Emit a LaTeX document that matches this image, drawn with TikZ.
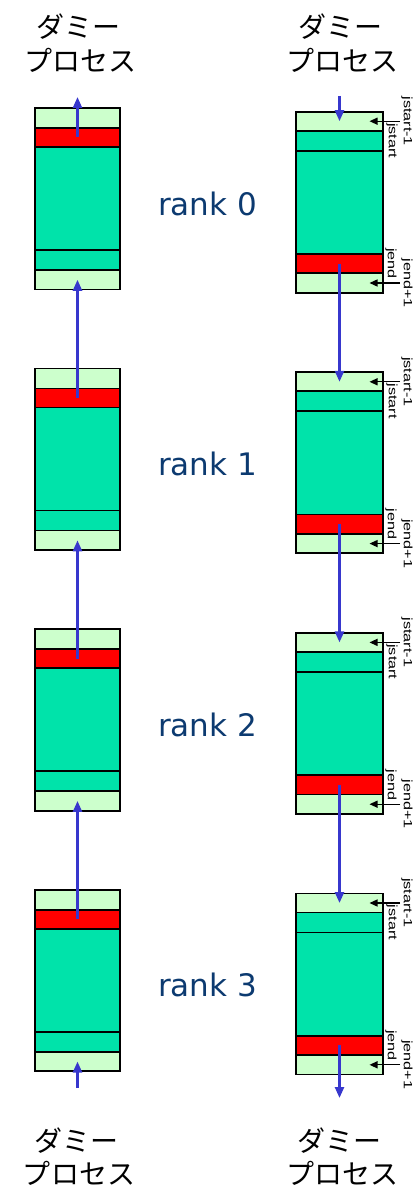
\documentclass[tikz,border=0pt]{standalone}
\usepackage{fontspec}
\usetikzlibrary{arrows.meta}
\newfontfamily\jpfont{Noto Sans CJK JP}
\newfontfamily\rkfont{DejaVu Sans}
\newfontfamily\labfont{Liberation Sans}
\definecolor{lightg}{HTML}{CCFFCC}
\definecolor{teal2}{HTML}{00E3AA}
\definecolor{redb}{HTML}{FF0000}
\definecolor{arrblue}{RGB}{55,55,205}
\definecolor{navy}{RGB}{12,58,112}
\tikzset{
  band/.style={draw=black, line width=1.7pt, minimum width=85pt, inner sep=0pt, outer sep=0pt, anchor=north west},
  rband/.style={draw=black, line width=1.7pt, minimum width=87pt, inner sep=0pt, outer sep=0pt, anchor=north west},
  barrow/.style={draw=arrblue, line width=2.4pt, -{Triangle[length=11pt,width=9pt]}},
  karrow/.style={draw=black, line width=1.3pt, -{Triangle[length=8pt,width=7pt]}},
  jplabel/.style={font=\jpfont\fontsize{28}{34}\selectfont, inner sep=0pt},
  ranktxt/.style={font=\rkfont\fontsize{31}{36}\selectfont, text=navy, anchor=base, inner sep=0pt},
  idxlab/.style={font=\labfont\fontsize{12}{14}\selectfont, rotate=-90, inner sep=0pt}
}
\begin{document}
\begin{tikzpicture}[x=1pt,y=-1pt]
\useasboundingbox (0,0) rectangle (413,1188);
% Japanese labels
\node[jplabel] (tl1) at (78,26.5) {ダミー};
\node[jplabel] (tl2) at (80,60.5) {プロセス};
\node[jplabel] (tr1) at (340,26.5) {ダミー};
\node[jplabel] (tr2) at (342,60.5) {プロセス};
\node[jplabel] (bl1) at (76,1141) {ダミー};
\node[jplabel] (bl2) at (79,1173.5) {プロセス};
\node[jplabel] (br1) at (339,1141) {ダミー};
\node[jplabel] (br2) at (342,1173.5) {プロセス};
\foreach \k in {0,1,2,3} {
  \pgfmathsetmacro\o{260.6*\k}
  % left box
  \node[band, fill=lightg, minimum height=20pt] (L\k a) at (35,108+\o) {};
  \node[band, fill=redb, minimum height=19pt] (L\k b) at (35,128+\o) {};
  \node[band, fill=teal2, minimum height=103pt] (L\k c) at (35,147+\o) {};
  \node[band, fill=teal2, minimum height=20pt] (L\k d) at (35,250+\o) {};
  \node[band, fill=lightg, minimum height=19.5pt] (L\k e) at (35,270+\o) {};
  % right box
  \node[rband, fill=lightg, minimum height=19pt] (R\k a) at (296,111.7+\o) {};
  \node[rband, fill=teal2, minimum height=20pt] (R\k b) at (296,130.7+\o) {};
  \node[rband, fill=teal2, minimum height=103.3pt] (R\k c) at (296,150.7+\o) {};
  \node[rband, fill=redb, minimum height=19.3pt] (R\k d) at (296,254+\o) {};
  \node[rband, fill=lightg, minimum height=19.4pt] (R\k e) at (296,273.3+\o) {};
  % rank text
  \node[ranktxt] (rk\k) at (207.5,215+\o) {rank \k};
  % index labels
  \node[idxlab] (js1\k) at (407,121.2+\o) {\scalebox{1.35}[1]{jstart-1}};
  \node[idxlab] (js\k) at (392,140.7+\o) {\scalebox{1.35}[1]{jstart}};
  \node[idxlab] (je\k) at (391,263.6+\o) {\scalebox{1.35}[1]{jend}};
  \node[idxlab] (je1\k) at (407,283+\o) {\scalebox{1.35}[1]{jend+1}};
  % small black arrows
  \coordinate (KA\k) at (400,121.2+\o);
  \coordinate (KE\k) at (400,283+\o);
  \draw[karrow] (KA\k) -- ([xshift=-13.5pt]R\k a.east);
  \draw[karrow] (KE\k) -- ([xshift=-13.5pt]R\k e.east);
}
% blue arrows, left column (upwards)
\coordinate (LT) at (77.5,97);
\coordinate (LB) at (77.5,1088);
\draw[barrow] (L0b.center) -- (LT);
\draw[barrow] (L1b.center) -- (L0e.center);
\draw[barrow] (L2b.center) -- (L1e.center);
\draw[barrow] (L3b.center) -- (L2e.center);
\draw[barrow] (LB) -- (L3e.center);
% blue arrows, right column (downwards)
\coordinate (RT) at (339.5,96);
\coordinate (RB) at (339.5,1098);
\draw[barrow] (RT) -- (R0a.center);
\draw[barrow] (R0d.center) -- (R1a.center);
\draw[barrow] (R1d.center) -- (R2a.center);
\draw[barrow] (R2d.center) -- (R3a.center);
\draw[barrow] (R3d.center) -- (RB);
\end{tikzpicture}
\end{document}
